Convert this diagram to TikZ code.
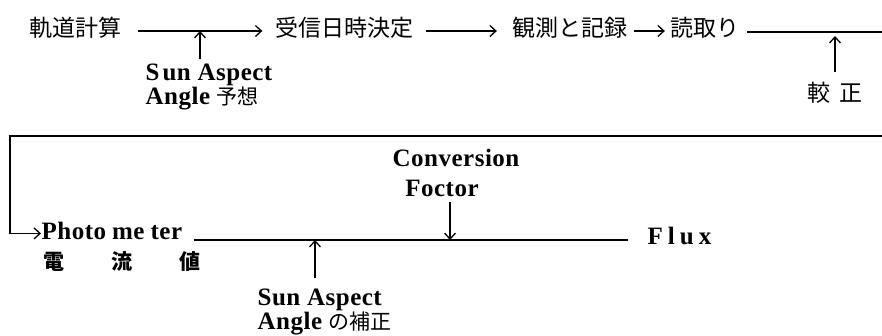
\documentclass[tikz,border=0pt]{standalone}
\usepackage{fontspec}
\setmainfont{Liberation Serif}[LetterSpace=2]
\newfontfamily\jp{Noto Sans CJK JP}
\usetikzlibrary{arrows.meta}
\begin{document}
\begin{tikzpicture}[x=1pt,y=-1pt,line width=1.3pt,
  jpn/.style={font=\jp\fontsize{23}{23}\selectfont,inner sep=0pt},
  jps/.style={font=\jp\bfseries\fontsize{21}{21}\selectfont,inner sep=0pt},
  lat/.style={font=\bfseries\fontsize{25}{20}\selectfont,inner sep=0pt},
  arr/.style={-{Straight Barb[length=6pt,width=11pt]}}]
\useasboundingbox (0,0) rectangle (882,336);
% row 1
\node[jpn] (kido) at (75,28) {軌道計算};
\node[jpn] (jushin) at (344,28) {受信日時決定};
\node[jpn] (kansoku) at (570,28) {観測と記録};
\node[jpn] (yomi) at (705,28) {読取り};
\node[jpn] (kousei) at (835,93) {較\kern9pt 正};
\coordinate (R1) at (882,32);
\coordinate (a1) at (200,31);
\node[lat,align=left,anchor=north west] (sa1) at (145,63) {S\kern3pt un Aspect\\Angle {\jp\mdseries\fontsize{21}{21}\selectfont 予想}};
\draw[arr] ([xshift=16pt,yshift=-3pt]kido.east) -- ([xshift=-12pt,yshift=-3pt]jushin.west);
\draw[arr] ([xshift=12pt,yshift=-3pt]jushin.east) -- ([xshift=-15pt,yshift=-3pt]kansoku.west);
\draw[arr] ([xshift=6pt,yshift=-3pt]kansoku.east) -- ([xshift=-5pt,yshift=-3pt]yomi.west);
\draw ([xshift=7pt,yshift=-4pt]yomi.east) -- (R1);
\draw[arr] ([yshift=4pt]sa1.north -| a1) -- (a1);
\draw[arr,shorten >=4pt] ([yshift=10pt]kousei.north) -- (kousei.north |- R1);
% row 2
\coordinate (R2) at (882,136);
\coordinate (L2) at (10,136);
\node[lat,anchor=base west] (pm) at (41,240) {Photo\kern6pt me\kern6pt ter};
\node[lat,anchor=base west] (flux) at (647,245) {F\kern5pt l\kern5pt u\kern5pt x};
\node[jps] (denryu) at (122,262) {電\kern47pt 流\kern47pt 値};
\node[lat] (conv) at (456,158) {Conversion};
\node[lat] (foc) at (442,188) {Foctor};
\node[lat,align=left,anchor=north west,font=\bfseries\fontsize{25}{19}\selectfont] (sa2) at (257,288) {Sun Aspect\\Angle {\jp\mdseries\fontsize{21}{21}\selectfont の補正}};
\coordinate (a2) at (315,240);
\coordinate (a3) at (450,240);
\draw[arr] (R2) -- (L2) |- ([yshift=-2pt]pm.west);
\draw ([xshift=11pt]pm.base east) -- ([xshift=-19pt,yshift=5pt]flux.base west);
\draw[arr] ([yshift=10pt]sa2.north -| a2) -- (a2);
\draw[arr] ([yshift=-5pt]foc.south -| a3) -- (a3);
\end{tikzpicture}
\end{document}
